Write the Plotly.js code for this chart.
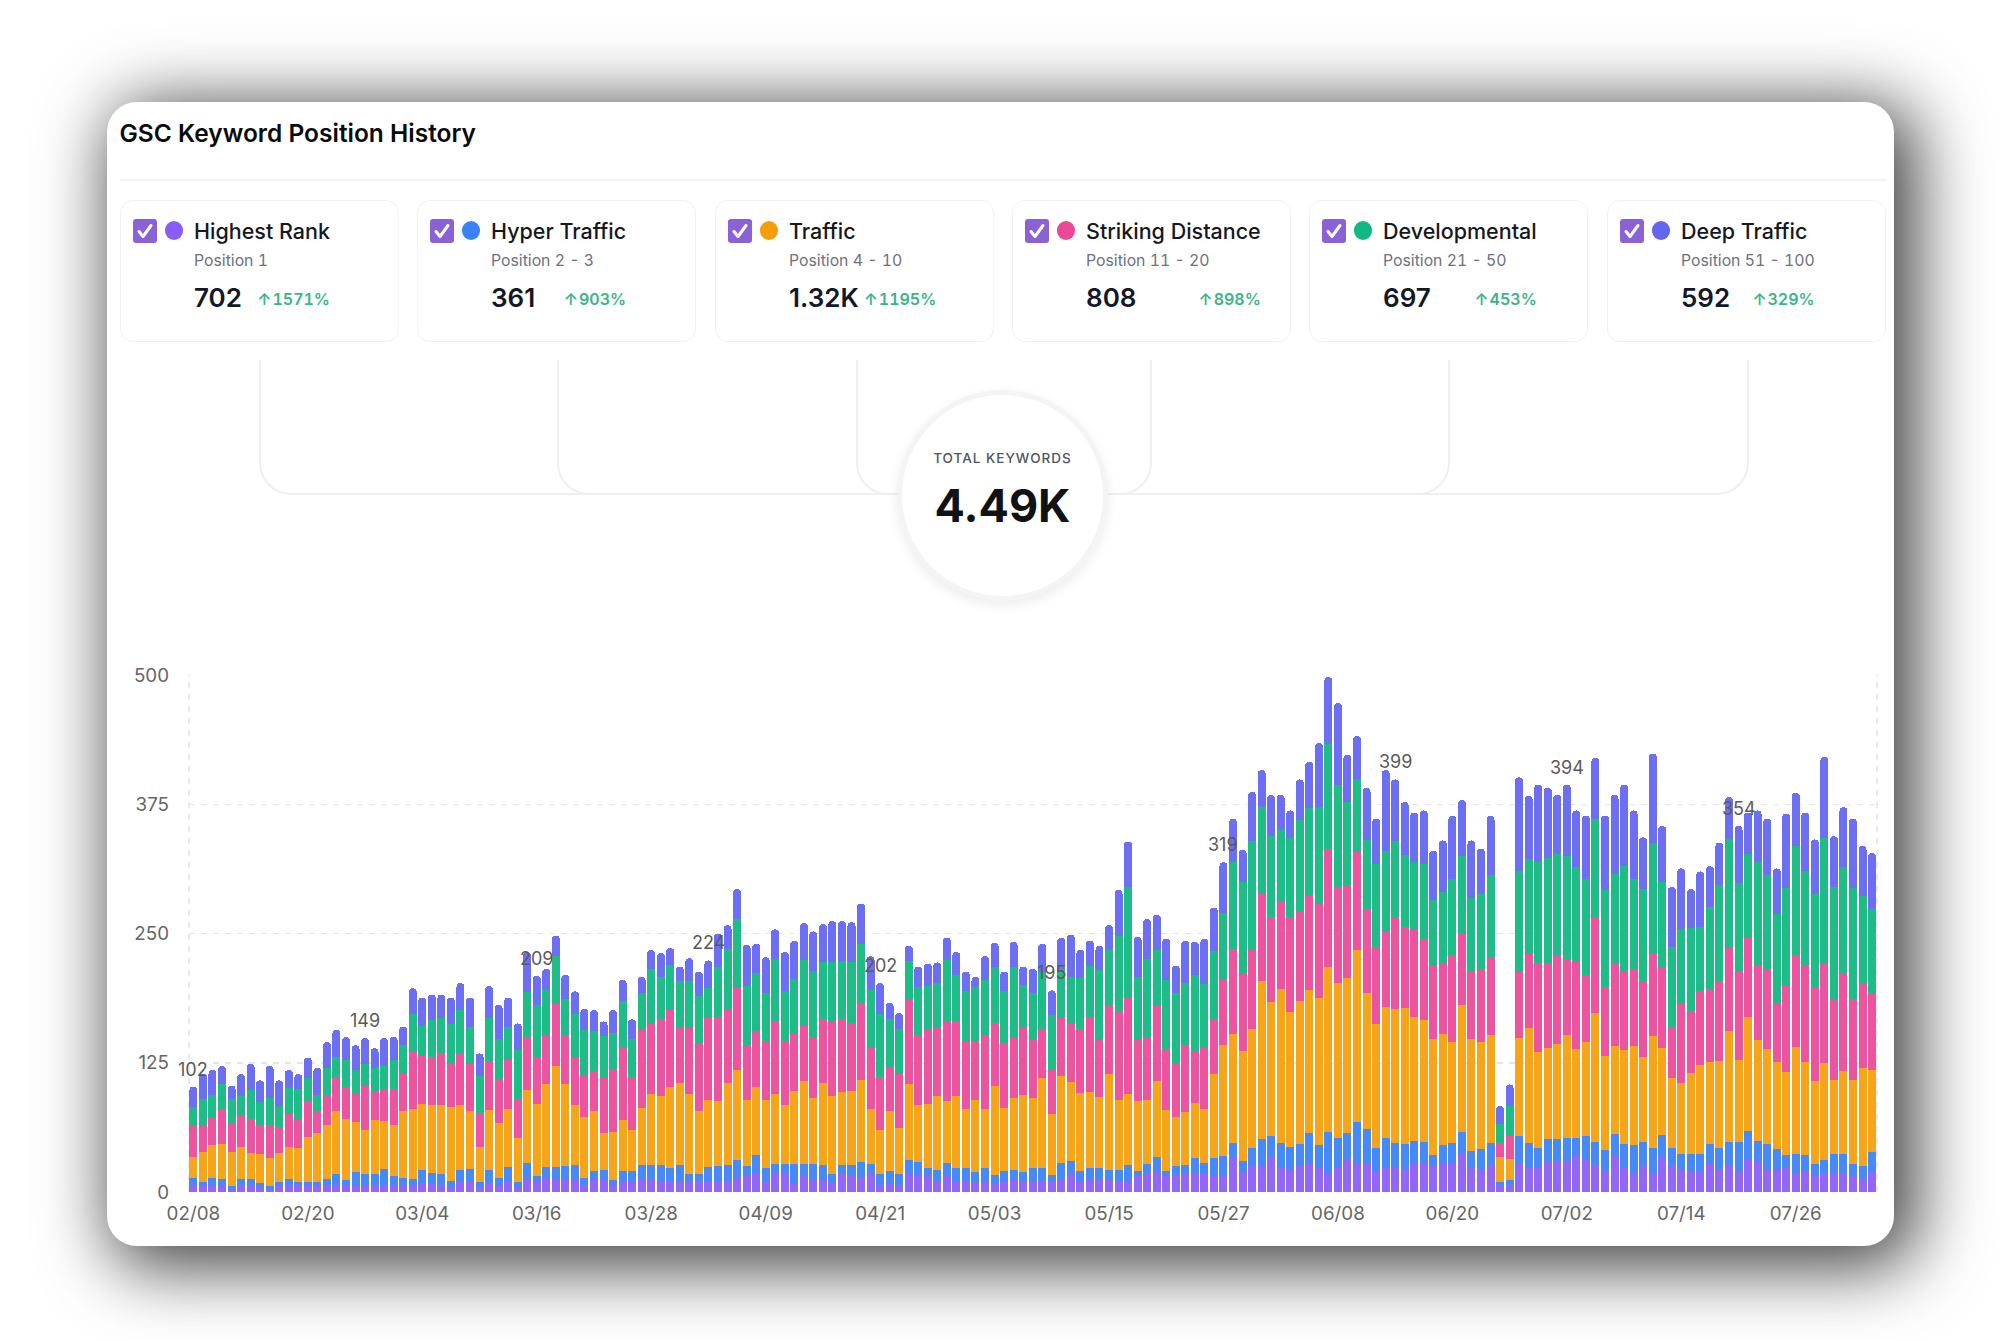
<!DOCTYPE html>
<html><head><meta charset="utf-8">
<script src="https://cdn.plot.ly/plotly-3.0.1.min.js"></script>
<style>
html,body{margin:0;padding:0;background:#fff;width:2000px;height:1340px;overflow:hidden;font-family:Inter,"Noto Sans",sans-serif}
#panel{position:absolute;left:107px;top:102px;width:1787px;height:1144px;background:#fff;border-radius:30px;box-shadow:13px 12px 70px 9px rgba(0,0,0,.75)}
.abs{position:absolute}
#title{left:119.5px;top:117px;font-size:24.5px;font-weight:600;color:#0b0b0c;line-height:32px;white-space:nowrap}
#rule{left:120px;top:179px;width:1767px;height:2px;background:#f3f4f6}
.card{position:absolute;top:199.5px;height:142.5px;width:279px;box-sizing:border-box;border:1.5px solid #f0f1f3;border-radius:13px;background:#fff}
.check{position:absolute;left:12px;top:18px;width:24px;height:24px;border-radius:3px;background:#8b62d6}
.check svg{display:block}
.dot{position:absolute;left:43.5px;top:20.5px;width:18.5px;height:18.5px;border-radius:50%}
.body{position:absolute;left:73px;top:16px;display:inline-flex;flex-direction:column}
.name{font-size:21.5px;font-weight:500;line-height:28px;color:#16181d;white-space:nowrap}
.pos{font-size:15.8px;line-height:20px;margin-top:6px;color:#6b7280;white-space:nowrap;font-variant-numeric:tabular-nums}
.row{display:flex;justify-content:space-between;align-items:center;gap:5px;margin-top:10px;line-height:34px;white-space:nowrap}
.val{font-size:26px;font-weight:600;color:#111827}
.pct{font-size:16px;font-weight:600;color:#3ab489;font-variant-numeric:tabular-nums;position:relative;top:1px}
.pct i{font-style:normal;margin-right:1px}
.lk{position:absolute;top:360px;height:135px;box-sizing:border-box;border-bottom:2px solid #eeeff1}
.lk.l{border-left:2px solid #eeeff1;border-bottom-left-radius:32px}
.lk.r{border-right:2px solid #eeeff1;border-bottom-right-radius:32px}
#ring{left:897px;top:389.5px;width:211px;height:211px;box-sizing:border-box;border:5px solid #f3f4f5;border-radius:50%;background:#fff;box-shadow:0 4px 12px rgba(0,0,0,.08)}
#tk{left:897px;width:211px;top:448px;text-align:center;font-size:13.5px;font-weight:500;letter-spacing:1px;line-height:20px;color:#4b5563}
#tv{left:897px;width:211px;top:476px;text-align:center;font-size:45px;font-weight:700;line-height:60px;color:#111213}
#chart{position:absolute;left:120px;top:620px;width:1770px;height:620px}
</style></head><body>
<div id="panel"></div>
<div class="abs" id="title">GSC Keyword Position History</div>
<div class="abs" id="rule"></div>
<div id="links"></div>
<div id="cards"></div>
<div class="abs" id="ring"></div>
<div class="abs" id="tk">TOTAL KEYWORDS</div>
<div class="abs" id="tv">4.49K</div>
<div id="chart"></div>
<script>
const dates=["02/08","02/09","02/10","02/11","02/12","02/13","02/14","02/15","02/16","02/17","02/18","02/19","02/20","02/21","02/22","02/23","02/24","02/25","02/26","02/27","02/28",
"03/01","03/02","03/03","03/04","03/05","03/06","03/07","03/08","03/09","03/10","03/11","03/12","03/13","03/14","03/15","03/16","03/17","03/18","03/19","03/20","03/21","03/22","03/23","03/24","03/25","03/26","03/27","03/28","03/29","03/30","03/31",
"04/01","04/02","04/03","04/04","04/05","04/06","04/07","04/08","04/09","04/10","04/11","04/12","04/13","04/14","04/15","04/16","04/17","04/18","04/19","04/20","04/21","04/22","04/23","04/24","04/25","04/26","04/27","04/28","04/29","04/30",
"05/01","05/02","05/03","05/04","05/05","05/06","05/07","05/08","05/09","05/10","05/11","05/12","05/13","05/14","05/15","05/16","05/17","05/18","05/19","05/20","05/21","05/22","05/23","05/24","05/25","05/26","05/27","05/28","05/29","05/30","05/31",
"06/01","06/02","06/03","06/04","06/05","06/06","06/07","06/08","06/09","06/10","06/11","06/12","06/13","06/14","06/15","06/16","06/17","06/18","06/19","06/20","06/21","06/22","06/23","06/24","06/25","06/26","06/27","06/28","06/29","06/30",
"07/01","07/02","07/03","07/04","07/05","07/06","07/07","07/08","07/09","07/10","07/11","07/12","07/13","07/14","07/15","07/16","07/17","07/18","07/19","07/20","07/21","07/22","07/23","07/24","07/25","07/26","07/27","07/28","07/29","07/30","07/31",
"08/01","08/02","08/03"];
const highestRank=[7,6,6,6,2,7,7,5,2,6,
7,7,6,6,7,7,6,6,7,7,
7,7,7,7,9,9,7,5,10,11,
5,9,6,10,4,12,10,14,12,12,
13,6,12,12,6,11,11,12,12,11,
11,11,10,10,10,10,11,14,16,18,
11,17,18,9,15,13,12,9,17,16,
14,17,6,9,6,17,15,15,10,16,
11,11,9,11,9,11,12,10,11,11,
10,12,17,11,13,13,12,10,10,16,
17,19,16,16,17,18,17,15,16,33,
20,25,25,34,24,21,25,28,23,17,
23,31,27,28,20,24,23,21,28,27,
25,28,27,38,24,21,26,7,7,28,
23,23,30,30,30,36,31,26,20,36,
24,18,26,18,33,26,21,20,20,27,
21,26,20,31,29,21,21,23,17,19,
15,18,18,18,15,13,20];
const hyperTraffic=[7,4,8,7,4,6,6,4,4,4,
6,3,4,4,6,10,6,13,10,10,
15,8,7,6,12,9,10,6,11,11,
5,12,8,14,6,16,5,10,12,13,
13,8,8,9,6,9,9,14,14,15,
12,15,7,7,14,15,15,17,9,18,
12,10,9,18,12,14,14,8,9,10,
15,10,11,11,11,14,14,8,11,12,
12,12,10,12,7,9,9,9,12,12,
6,16,13,9,10,10,9,11,16,4,
10,15,4,9,9,15,11,18,19,14,
10,18,26,20,23,23,21,29,22,41,
29,26,41,33,23,28,24,25,21,21,
11,17,20,20,16,21,21,3,5,26,
24,20,21,21,22,16,23,22,21,20,
22,27,22,25,22,17,16,17,17,19,
22,22,28,28,20,25,21,13,20,17,
12,13,19,19,12,12,19];
const traffic=[20,29,31,33,33,31,25,28,27,28,
31,33,43,47,52,61,59,49,43,53,
47,50,64,67,64,66,67,71,63,56,
34,58,53,56,42,71,70,80,98,79,
58,59,58,36,46,50,40,55,69,67,
79,79,78,61,65,63,79,87,64,66,
66,68,57,71,80,64,79,76,71,72,
79,53,43,58,45,73,55,62,72,60,
70,57,70,57,87,61,70,75,68,87,
59,84,76,76,74,69,93,68,69,68,
62,73,59,48,51,53,52,81,107,106,
106,115,153,130,149,130,139,138,143,160,
150,150,166,131,119,127,130,132,120,118,
112,108,98,123,108,103,105,24,20,95,
112,92,88,92,100,86,91,125,91,85,
91,96,83,108,84,67,68,78,86,80,
84,108,80,110,98,92,84,80,103,90,
80,94,71,80,81,95,79];
const strikingDistance=[30,25,28,34,28,30,33,28,31,25,
31,27,35,21,29,32,31,27,43,28,
31,35,36,55,47,47,50,43,49,46,
32,48,41,48,37,50,46,47,60,48,
46,40,39,53,60,70,51,76,67,74,
74,54,64,66,80,81,71,80,53,54,
57,70,62,55,54,59,62,72,70,65,
74,59,50,43,52,82,68,72,66,77,
72,66,57,71,60,63,58,66,57,48,
43,56,57,61,71,55,67,85,94,59,
61,74,59,52,65,50,59,52,63,82,
76,76,84,82,84,92,86,91,91,114,
93,90,95,82,75,72,89,78,84,79,
71,68,84,69,65,71,74,13,22,64,
71,86,82,85,73,84,65,92,66,80,
76,74,72,80,78,50,77,60,71,70,
77,81,85,78,73,77,56,83,89,94,
91,96,78,95,79,81,74];
const developmental=[18,26,21,24,23,19,28,22,27,20,
26,30,22,16,26,21,26,23,21,22,
22,28,28,37,29,35,34,37,43,36,
36,41,40,32,48,44,50,44,46,35,
42,44,39,41,36,45,37,35,54,41,
44,45,45,46,28,49,59,66,57,56,
46,60,48,53,63,64,55,57,56,59,
58,56,62,46,44,37,46,42,43,59,
45,48,52,54,55,50,69,40,44,55,
53,48,45,50,51,68,53,74,106,61,
75,53,67,67,60,74,62,67,65,84,
88,105,84,78,70,76,89,85,93,101,
99,80,70,66,80,79,73,70,66,72,
63,69,74,75,71,72,81,19,29,97,
92,98,102,99,100,92,93,96,94,87,
102,88,90,107,83,77,72,80,62,80,
93,104,86,80,99,92,87,95,106,90,
90,121,109,102,107,85,82];
const deepTraffic=[20,24,24,18,13,21,25,21,31,25,
17,14,20,26,25,26,22,24,25,19,
27,22,18,25,27,25,23,26,26,28,
22,31,33,28,26,39,28,21,20,23,
22,20,20,14,22,20,19,16,18,23,
16,14,22,23,27,32,23,29,40,28,
35,29,38,37,36,38,37,40,39,39,
39,33,30,16,15,15,20,22,20,22,
22,19,10,23,23,19,24,18,24,27,
24,30,41,27,24,23,24,44,44,39,
39,34,40,27,41,32,44,42,49,42,
31,48,36,40,34,27,39,45,62,65,
79,46,42,51,44,78,60,51,48,52,
48,50,61,54,56,44,57,17,21,91,
61,75,68,57,69,55,61,59,72,76,
79,66,50,86,54,58,59,38,54,39,
41,41,55,40,50,54,44,72,51,57,
53,79,49,58,67,49,54];
const xTicks=["02/08","02/20","03/04","03/16","03/28","04/09","04/21","05/03","05/15","05/27","06/08","06/20","07/02","07/14","07/26"];
const yTicks=[0,125,250,375,500];
const labelDates=["02/08","02/26","03/16","04/03","04/21","05/09","05/27","06/14","07/02","07/20"];
const labelTotals=[102,149,209,224,202,195,319,399,394,354];
const names=["Highest Rank","Hyper Traffic","Traffic","Striking Distance","Developmental","Deep Traffic"];
const ranges=["Position 1","Position 2 - 3","Position 4 - 10","Position 11 - 20","Position 21 - 50","Position 51 - 100"];
const counts=["702","361","1.32K","808","697","592"];
const changes=["1571%","903%","1195%","898%","453%","329%"];
const colors=["#8b5cf6","#3b82f6","#f59e0b","#ec4899","#10b981","#6366f1"];
const seriesValues=[highestRank,hyperTraffic,traffic,strikingDistance,developmental,deepTraffic];

const cardLeft=[120,417,715,1012,1309,1607], linkX=[259,557,856,1152,1450,1749];
const cardsEl=document.getElementById('cards'), linksEl=document.getElementById('links');
names.forEach((n,i)=>{
  const c=document.createElement('div');c.className='card';c.style.left=cardLeft[i]+'px';
  c.innerHTML='<div class="check"><svg width="24" height="24" viewBox="0 0 24 24"><path d="M6 12.5l4 5 8-11" fill="none" stroke="#fff" stroke-width="3" stroke-linecap="round" stroke-linejoin="round"/></svg></div>'+
  '<div class="dot" style="background:'+colors[i]+'"></div>'+
  '<div class="body"><div class="name">'+n+'</div><div class="pos">'+ranges[i]+'</div><div class="row"><span class="val">'+counts[i]+'</span><span class="pct"><i>↑</i>'+changes[i]+'</span></div></div>';
  cardsEl.appendChild(c);
  const l=document.createElement('div');
  if(i<3){l.className='lk l';l.style.left=linkX[i]+'px';l.style.width=(1002-linkX[i])+'px';}
  else{l.className='lk r';l.style.left='1002px';l.style.width=(linkX[i]-1002)+'px';}
  linksEl.appendChild(l);
});

const traces=names.map((n,i)=>({type:'bar',name:n,x:dates,y:seriesValues[i],marker:{color:colors[i],opacity:0.94,line:{width:0}},hoverinfo:'skip'}));
const layout={
  width:1770,height:620,margin:{l:69,r:13,t:55,b:48},paper_bgcolor:'rgba(0,0,0,0)',plot_bgcolor:'rgba(0,0,0,0)',
  barmode:'stack',bargap:0.16,barcornerradius:4,showlegend:false,
  font:{family:'Inter, sans-serif',size:18.8,color:'#666'},
  xaxis:{type:'category',categoryorder:'array',categoryarray:dates,range:[-0.46,176.52],tickmode:'array',tickvals:xTicks,ticktext:xTicks,showgrid:false,zeroline:false,showline:false,ticks:'',ticklabelstandoff:8,tickangle:0,tickfont:{size:18.8,color:'#666'}},
  yaxis:{range:[0,500],tickmode:'array',tickvals:yTicks,showgrid:true,gridcolor:'#e4e4e9',griddash:'6px,6px',gridwidth:1.5,zeroline:false,showline:false,ticks:'',ticklabelstandoff:19,tickfont:{size:18.8,color:'#666'}},
  shapes:[0,1].map(v=>({type:'line',xref:'paper',yref:'paper',x0:v,x1:v,y0:0,y1:1,layer:'below',line:{color:'#e4e4e9',width:1.5,dash:'6px,6px'}})),
  annotations:labelDates.map((d,i)=>({x:d,y:labelTotals[i],text:String(labelTotals[i]),showarrow:false,yanchor:'bottom',xanchor:'center',yshift:5,font:{size:18,color:'#5a5a5a'}}))
};
Plotly.newPlot('chart',traces,layout,{displayModeBar:false,staticPlot:true});
</script>
</body></html>
